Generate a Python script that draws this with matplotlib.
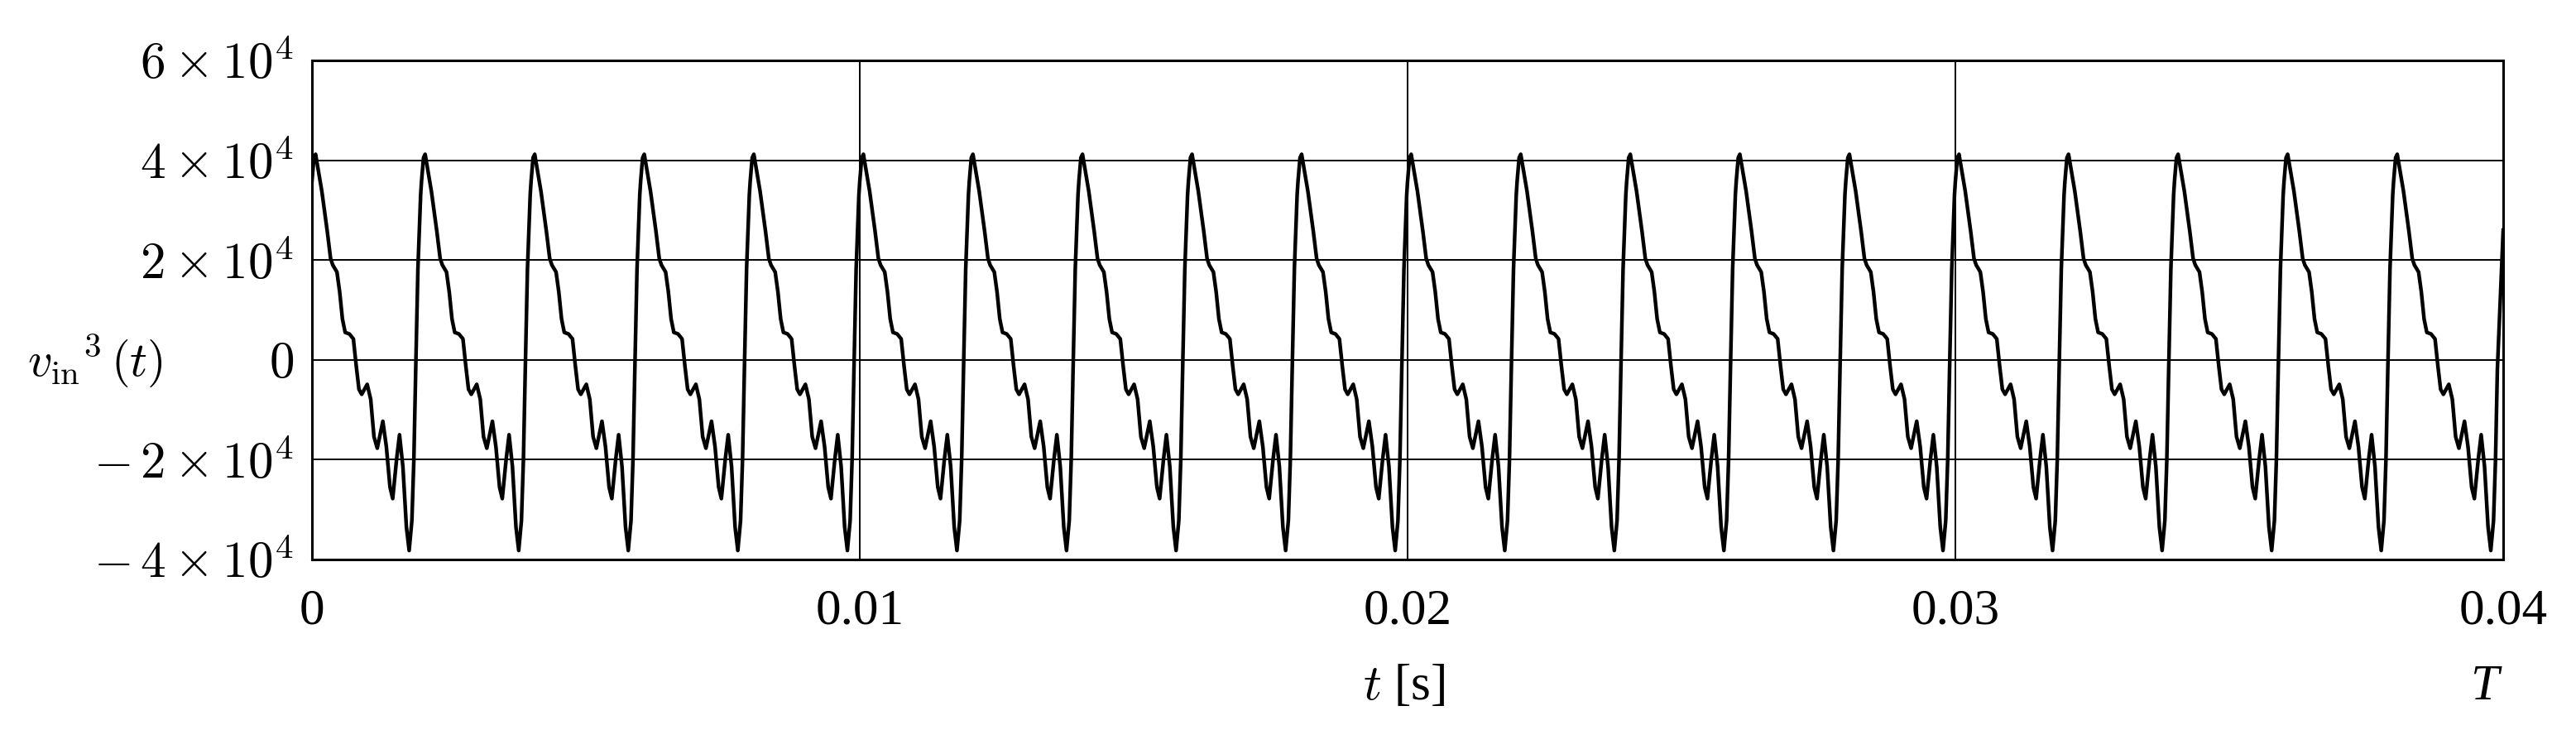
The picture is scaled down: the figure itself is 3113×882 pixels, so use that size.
import numpy as np
import matplotlib
matplotlib.use("Agg")
import matplotlib.pyplot as plt

plt.rcParams['mathtext.fontset'] = 'cm'
plt.rcParams['font.family'] = ['Liberation Serif', 'DejaVu Serif']

# ---- data: one period of the waveform ----
period = 0.002          # s
n_periods = 20
phase = [0.000, 0.018, 0.033, 0.090, 0.140, 0.170, 0.190, 0.228, 0.253, 0.278,
         0.303, 0.341, 0.378, 0.404, 0.429, 0.454, 0.504, 0.536, 0.566, 0.596,
         0.647, 0.679, 0.712, 0.737, 0.772, 0.799, 0.830, 0.862, 0.887, 0.912,
         0.930, 0.947, 0.967, 0.992]
value = [3.58e4, 4.05e4, 4.12e4, 3.38e4, 2.57e4, 2.03e4, 1.90e4, 1.76e4, 1.36e4, 0.82e4,
         0.55e4, 0.52e4, 0.42e4, -0.12e4, -0.59e4, -0.69e4, -0.49e4, -0.79e4, -1.54e4, -1.77e4,
         -1.23e4, -1.74e4, -2.55e4, -2.78e4, -2.00e4, -1.50e4, -2.14e4, -3.35e4, -3.82e4, -3.22e4,
         -2.00e4, -0.19e4, 1.83e4, 3.31e4]
end_time = 0.04
end_value = 2.6e4

x_ticks = [0, 0.01, 0.02, 0.03, 0.04]
x_ticklabels = ['0', '0.01', '0.02', '0.03', '0.04']
y_ticks = [-4e4, -2e4, 0, 2e4, 4e4, 6e4]
y_ticklabels = [r'$-\,4\times10^{4}$', r'$-\,2\times10^{4}$', r'$0\hspace{0.36}$',
                r'$2\times10^{4}$', r'$4\times10^{4}$', r'$6\times10^{4}$']

# build full time series by repeating the read period
ph = np.asarray(phase)
k = np.repeat(np.arange(n_periods), len(ph))
t = (k + np.tile(ph, n_periods)) * period
v = np.tile(np.asarray(value), n_periods)
keep = t < end_time - 0.0001
t = np.append(t[keep], end_time)
v = np.append(v[keep], end_value)

W, H = 3113, 882
fig = plt.figure(figsize=(W / 100, H / 100), dpi=100)
L, R, T, B = 377, 3025, 73, 676
ax = fig.add_axes([L / W, 1 - B / H, (R - L) / W, (B - T) / H])

ax.plot(t, v, color='black', lw=3.2, solid_joinstyle='round', zorder=3)

ax.set_xlim(0, 0.04)
ax.set_ylim(-4e4, 6e4)
ax.set_xticks(x_ticks)
ax.set_xticklabels(x_ticklabels, fontsize=44, family='Liberation Serif')
ax.set_yticks(y_ticks)
ax.set_yticklabels(y_ticklabels, fontsize=44)
ax.tick_params(axis='both', length=0)
ax.tick_params(axis='x', pad=25)
ax.tick_params(axis='y', pad=16)
ax.grid(True, color='black', lw=1.4)
for s in ax.spines.values():
    s.set_linewidth(2.2)

fig.text(33 / W, 1 - 436 / H, r'$v_{\mathrm{in}}{}^{3}\,(t)$', fontsize=42,
         ha='left', va='center')
fig.text(1697 / W, 1 - 830 / H, r'$t$ [s]', fontsize=44, ha='center', va='center')
fig.text(3003 / W, 1 - 830 / H, 'T', fontsize=44, style='italic', ha='center', va='center')

fig.savefig('out.png', dpi=100)
